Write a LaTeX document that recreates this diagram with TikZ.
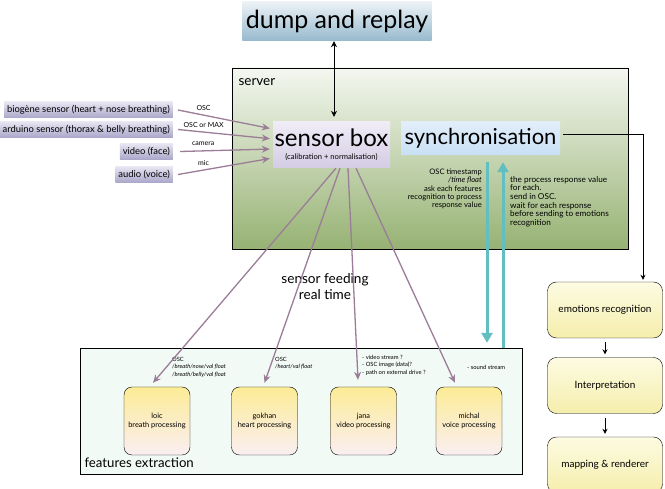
\documentclass[tikz,border=0pt]{standalone}
\usepackage{fontspec}
\setmainfont{Lato}
\usepackage{xcolor}
\usepackage{tikz}
\usetikzlibrary{arrows.meta}

\definecolor{feedpurple}{RGB}{155,125,152}
\definecolor{syncteal}{RGB}{98,190,192}
\definecolor{servertop}{RGB}{244,247,240}
\definecolor{serverbot}{RGB}{150,178,115}
\definecolor{dumptop}{RGB}{236,242,246}
\definecolor{dumpbot}{RGB}{150,185,205}
\definecolor{synctop}{RGB}{226,238,250}
\definecolor{syncbot}{RGB}{200,224,245}
\definecolor{lavtop}{RGB}{232,230,242}
\definecolor{lavbot}{RGB}{170,166,202}
\definecolor{boxlavtop}{RGB}{240,236,246}
\definecolor{boxlavbot}{RGB}{212,204,228}
\definecolor{featmint}{RGB}{242,250,246}
\definecolor{procyellow}{RGB}{252,236,150}
\definecolor{procpink}{RGB}{250,238,242}
\definecolor{stagetop}{RGB}{253,251,226}
\definecolor{stagebot}{RGB}{245,238,172}

\begin{document}
\begin{tikzpicture}[x=1pt, y=-1pt,
			% Define the style for the nodes
			src/.style={anchor=east, top color=lavtop, bottom color=lavbot, minimum height=16pt, inner xsep=3pt, inner ysep=0pt, font=\fontsize{9.4}{10}\selectfont},
			proc/.style={draw, rounded corners=8pt, top color=procyellow, bottom color=procpink, minimum width=66pt, minimum height=68pt, align=center, font=\fontsize{7.4}{8.6}\selectfont},
			stage/.style={draw, rounded corners=9pt, top color=stagetop, bottom color=stagebot, minimum width=115pt, minimum height=56pt, font=\fontsize{10}{11}\selectfont},
			note/.style={anchor=north west, align=left, inner sep=0pt, font=\fontsize{5.8}{7.5}\selectfont},
			% Define the style for the connectors
			feed/.style={draw=feedpurple, line width=1.3pt, -{Stealth[length=8pt, width=7pt]}},
			osc/.style={draw=syncteal, line width=3pt, -{Triangle[length=10pt, width=11pt]}},
			flow/.style={draw, line width=0.8pt, -{Stealth[length=5pt, width=5pt]}}
			]

			\useasboundingbox (0, 0) rectangle (665, 489);
			\fill[white] (0, 0) rectangle (665, 489);

			\node (dump) at (337, 21.5) [top color=dumptop, bottom color=dumpbot, minimum width=189pt, minimum height=39pt, font=\fontsize{25}{25}\selectfont] {dump and replay};

			\node (server) at (430, 158.5) [draw, top color=servertop, bottom color=serverbot, minimum width=396pt, minimum height=181pt] {};
			\node (serverlbl) at (235, 82) [anchor=west, font=\fontsize{13.5}{14}\selectfont] {server};

			\node (feat) at (301, 411) [draw, fill=featmint, minimum width=442pt, minimum height=126pt] {};
			\node (featlbl) at (81, 463) [anchor=west, font=\fontsize{13.2}{14}\selectfont] {features extraction};

			\node (sensor) at (331.5, 145) [top color=boxlavtop, bottom color=boxlavbot, minimum width=117pt, minimum height=46pt, align=center, inner sep=0pt] {{\fontsize{24}{24}\selectfont sensor box}\\[1pt]{\fontsize{7.6}{8}\selectfont (calibration + normalisation)}};
			\node (sync) at (480.5, 138.5) [top color=synctop, bottom color=syncbot, minimum width=159pt, minimum height=33pt, font=\fontsize{22}{22}\selectfont] {synchronisation};

			\node (s1) at (173, 110) [src] {biogène sensor (heart + nose breathing)};
			\node (s2) at (173, 129.5) [src] {arduino sensor (thorax \& belly breathing)};
			\node (s3) at (173, 151.5) [src] {video (face)};
			\node (s4) at (173, 174.5) [src] {audio (voice)};

			\node (loic) at (157, 421) [proc] {loic\\breath processing};
			\node (gokhan) at (264.5, 421) [proc] {gokhan\\heart processing};
			\node (jana) at (363.5, 421) [proc] {jana\\video processing};
			\node (michal) at (469, 421) [proc] {michal\\voice processing};

			\node (loicosc) at (172, 357) [note] {OSC\\\textit{/breath/nose/val float}\\\textit{/breath/belly/val float}};
			\node (gokhanosc) at (275, 357) [note] {OSC\\\textit{/heart/val float}};
			\node (janaosc) at (362, 355) [note] {- video stream ?\\- OSC image (data)?\\- path on external drive ?};
			\node (michalosc) at (467, 365) [note] {- sound stream};

			\node (feeding) at (325, 287) [align=center, font=\fontsize{13.6}{16}\selectfont] {sensor feeding\\real time};

			\node (asktxt) at (482, 169) [anchor=north east, align=right, inner sep=0pt, font=\fontsize{7.6}{8.2}\selectfont] {OSC timestamp\\\textit{/time float}\\ask each features\\recognition to process\\response value};
			\node (resptxt) at (510, 176) [anchor=north west, align=left, inner sep=0pt, font=\fontsize{8.2}{8.6}\selectfont] {the process response value\\for each.\\send in OSC.\\wait for each response\\before sending to emotions\\recognition};

			\node (emo) at (605, 310) [stage] {emotions recognition};
			\node (interp) at (605, 385.5) [stage] {Interpretation};
			\node (mapping) at (605, 465) [stage] {mapping \& renderer};

			\draw[thick, {Stealth[length=6pt, width=6pt]}-{Stealth[length=6pt, width=6pt]}, shorten >=5pt] ([xshift=-3pt]dump.south) -- ([xshift=-3pt]dump.south |- sensor.north);

			\draw[feed, shorten >=3pt] ([xshift=5pt]s1.east) -- ([yshift=16pt]sensor.west) node[pos=0.27, above=1pt, text=black, font=\fontsize{7}{7}\selectfont] {OSC};
			\draw[feed, shorten >=3pt] ([xshift=5pt]s2.east) -- ([yshift=6pt]sensor.west) node[pos=0.27, above=1pt, text=black, font=\fontsize{7}{7}\selectfont] {OSC or MAX};
			\draw[feed, shorten >=3pt] ([xshift=7pt]s3.east) -- ([yshift=-4pt]sensor.west) node[pos=0.25, above=1pt, text=black, font=\fontsize{7}{7}\selectfont] {camera};
			\draw[feed, shorten >=3pt] ([xshift=5pt]s4.east) -- ([yshift=-13pt]sensor.west) node[pos=0.27, above=1pt, text=black, font=\fontsize{7}{7}\selectfont] {mic};

			\draw[feed] ([xshift=4.5pt]sensor.south) -- ([xshift=-4pt, yshift=4pt]loic.north);
			\draw[feed] ([xshift=8.5pt]sensor.south) -- ([yshift=4pt]gokhan.north);
			\draw[feed] ([xshift=16.5pt]sensor.south) -- ([xshift=-5.5pt, yshift=7pt]jana.north);
			\draw[feed] ([xshift=24.5pt]sensor.south) -- ([xshift=-14pt, yshift=4pt]michal.north);

			\draw[osc, shorten >=5pt] ([xshift=6.5pt, yshift=-7pt]sync.south) -- ([xshift=6.5pt]sync.south |- feat.north);
			\draw[osc] ([xshift=22.5pt]sync.south |- feat.north) -- ([xshift=22.5pt, yshift=-7pt]sync.south);

			\draw[flow, shorten >=2pt] ([xshift=3pt, yshift=4pt]sync.east) -| ([xshift=38pt]emo.north);
			\draw[flow, shorten <=4pt, shorten >=3pt] (emo) -- (interp);
			\draw[flow, shorten <=4pt, shorten >=3pt] (interp) -- (mapping);

		\end{tikzpicture}
\end{document}
